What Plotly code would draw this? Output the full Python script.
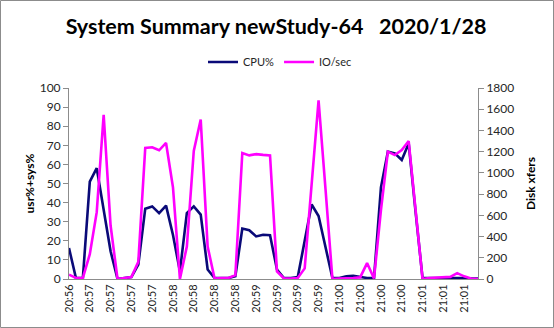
import plotly.graph_objects as go

# tick labels every 3rd sample (5 second samples)
time_labels = ['20:56', '20:57', '20:57', '20:57', '20:57',
               '20:58', '20:58', '20:58', '20:58',
               '20:59', '20:59', '20:59', '20:59',
               '21:00', '21:00', '21:00', '21:00',
               '21:01', '21:01', '21:01']

cpu_pct = [16.2, 0.5, 0.5, 51, 58, 37, 14.5, 0, 0.5, 1,
           7.5, 36.8, 38, 34.5, 38.4, 23, 4, 34.5, 38, 33.7,
           5, 0.5, 0.5, 0.5, 1.5, 26.4, 25.5, 22.3, 23.2, 22.9,
           5, 0.5, 0.5, 1, 20, 39, 33, 16, 0.5, 0.5,
           1.4, 1.7, 1, 0.5, 0.5, 48, 66.7, 65.8, 62.3, 71,
           35, 0.5, 0.5, 0.5, 0.5, 0.5, 0.8, 0.5, 0.3, 0.2]

io_per_sec = [41, 10, 10, 234, 630, 1548, 504, 0, 10, 18,
              162, 1235, 1242, 1213, 1282, 864, 0, 306, 1206, 1503,
              306, 5, 10, 10, 36, 1188, 1165, 1177, 1170, 1165,
              72, 5, 5, 10, 100, 860, 1683, 850, 0, 5,
              5, 10, 15, 150, 5, 650, 1200, 1168, 1216, 1300,
              650, 0, 10, 15, 20, 20, 55, 25, 5, 0]

samples = list(range(len(cpu_pct)))
tick_pos = samples[::3][:len(time_labels)]

W, H = 554, 328
ml, mr, mt, mb = 69, 76, 88, 49
pw, ph = W - ml - mr, H - mt - mb

font = 'Lato, Liberation Sans, sans-serif'
axis_col = '#8c8c8c'

fig = go.Figure()
fig.add_trace(go.Scatter(x=samples, y=cpu_pct, mode='lines', name='CPU%',
                         line=dict(color='#0a0a78', width=2.6)))
fig.add_trace(go.Scatter(x=samples, y=io_per_sec, mode='lines', name='IO/sec',
                         yaxis='y2', line=dict(color='#ff00ff', width=2.6)))

fig.update_layout(
    width=W, height=H,
    margin=dict(l=ml, r=mr, t=mt, b=mb, autoexpand=False),
    paper_bgcolor='white', plot_bgcolor='white',
    font=dict(family=font, size=11, color='#262626'),
    title=dict(text='System Summary newStudy-64\u00a0\u00a0 2020/1/28',
               x=276 / W, xanchor='center', y=1 - 26 / H, yanchor='middle',
               font=dict(family=font, size=21.5, color='black', weight='bold')),
    legend=dict(orientation='h', x=(280 - ml) / pw, xanchor='center',
                y=(H - mb - 62) / ph, yanchor='middle',
                font=dict(size=11, color='#262626'), itemwidth=30,
                bgcolor='rgba(0,0,0,0)'),
    xaxis=dict(range=[0, len(samples) - 1], tickvals=tick_pos, ticktext=time_labels,
               tickangle=-90, showgrid=False, zeroline=False, automargin=False,
               showline=True, linecolor=axis_col, linewidth=1,
               ticks='', tickfont=dict(size=11)),
    yaxis=dict(range=[0, 100], dtick=10, showgrid=False, zeroline=False,
               automargin=False,
               showline=True, linecolor=axis_col, ticks='outside', ticklen=5,
               tickcolor=axis_col, tickfont=dict(size=12),
               title=dict(text='usr%+sys%', standoff=2,
                          font=dict(size=12, weight='bold', color='black'))),
    yaxis2=dict(range=[0, 1800], dtick=200, overlaying='y', side='right',
                automargin=False,
                showgrid=False, zeroline=False, showline=True, linecolor=axis_col,
                ticks='outside', ticklen=5, tickcolor=axis_col,
                tickfont=dict(size=12),
                title=dict(text='Disk xfers', standoff=13,
                           font=dict(size=12, weight='bold', color='black'))),
)

# outer chart border
fig.add_shape(type='rect', xref='paper', yref='paper',
              x0=(0.5 - ml) / pw, x1=(W - 0.5 - ml) / pw,
              y0=(-mb + 0.5) / ph, y1=(ph + mt - 0.5) / ph,
              line=dict(color='#8c8c8c', width=1), layer='below')

fig.write_html("out.html", config={'displayModeBar': False},
               post_script="document.body.style.margin='0';")
